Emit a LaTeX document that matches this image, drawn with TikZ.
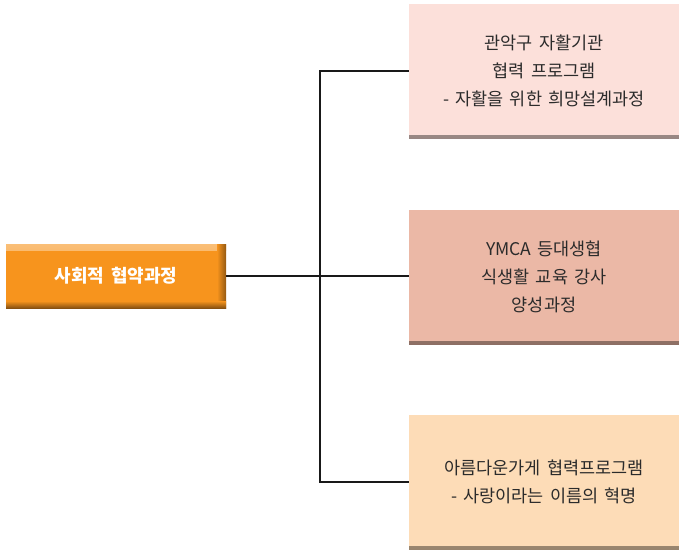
\documentclass[tikz,border=0pt]{standalone}
\usepackage{fontspec}
\setmainfont{Noto Sans CJK KR}[WordSpace={1.6,0.5,0.2}]
\usepackage{tikz}
\usetikzlibrary{calc}
\definecolor{mainorange}{HTML}{F7941D}
\definecolor{pinkbox}{HTML}{FCE0DA}
\definecolor{salmonbox}{HTML}{EBB8A6}
\definecolor{peachbox}{HTML}{FDDCB7}
\definecolor{textgray}{HTML}{2B2B2B}
\begin{document}
\begin{tikzpicture}[x=1pt,y=-1pt,
		program/.style={fill=#1,minimum width=270pt,minimum height=134pt,inner sep=0pt,
			align=center,text=textgray,font=\fontsize{17.5}{28}\selectfont,
			path picture={\shade[top color=#1,bottom color=#1!60!black]
				([yshift=3pt]path picture bounding box.south west) rectangle (path picture bounding box.south east);}},
		process/.style={fill=mainorange,minimum width=220pt,minimum height=64pt,inner sep=0pt,
			text=white,font=\fontsize{18}{20}\selectfont\bfseries,
			path picture={\shade[top color=mainorange!60!white,bottom color=mainorange]
				(path picture bounding box.north west) rectangle ([yshift=-6pt]path picture bounding box.north east);
				\shade[left color=mainorange,right color=mainorange!60!black]
				([xshift=-9pt]path picture bounding box.north east) rectangle (path picture bounding box.south east);
				\shade[top color=mainorange,bottom color=mainorange!55!black]
				([yshift=7pt]path picture bounding box.south west) rectangle (path picture bounding box.south east);}},
		branch/.style={line width=1.4pt,black!90}]
		\useasboundingbox (0,0) rectangle (679,549);
		% left box
		\node[process] (contract) at (116,276) {사회적 협약과정};
		% right boxes
		\node[program=pinkbox] (gwanak) at (544,71) {관악구 자활기관\\협력 프로그램\\- 자활을 위한 희망설계과정};
		\node[program=salmonbox] (ymca) at (544,277) {YMCA 등대생협\\식생활 교육 강사\\양성과정};
		\node[program=peachbox] (beauty) at (544,482) {아름다운가게 협력프로그램\\- 사랑이라는 이름의 혁명};
		% connectors
		\coordinate (fork) at (320,276);
		\draw[branch] (contract.east) -- (fork) -- (ymca.west |- fork);
		\draw[branch] (gwanak.west) -| (fork) |- (beauty.west);
	\end{tikzpicture}
\end{document}
